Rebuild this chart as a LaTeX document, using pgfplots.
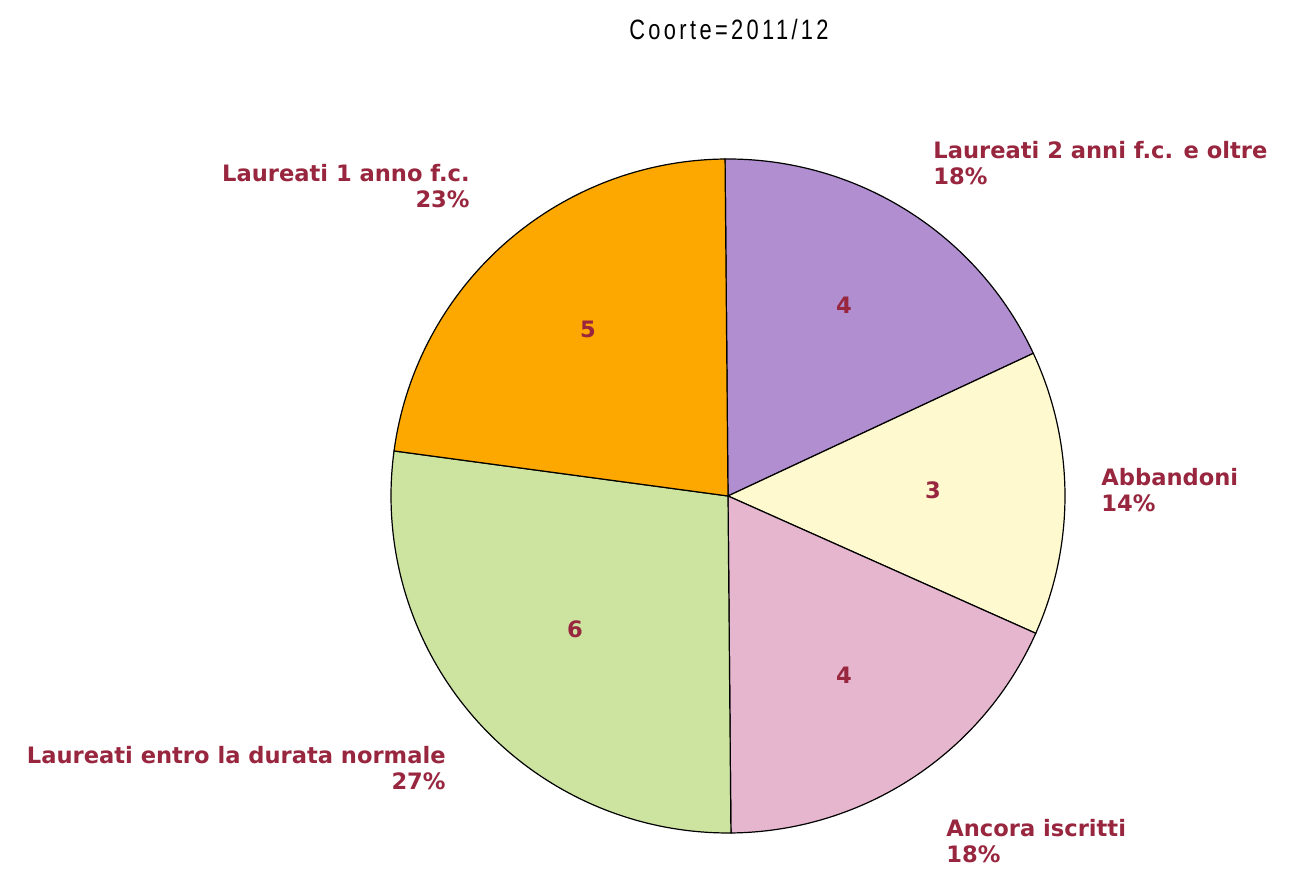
\documentclass[border=0pt]{standalone}
\usepackage{pgfplots}
\pgfplotsset{compat=1.18}
\usepackage{fontspec}
\setmainfont{DejaVu Sans}
\newfontfamily\titlefont{Liberation Sans}[FakeStretch=0.78,LetterSpace=12]
\definecolor{cPurple}{RGB}{176,142,208}
\definecolor{cCream}{RGB}{255,249,208}
\definecolor{cPink}{RGB}{229,182,206}
\definecolor{cGreen}{RGB}{205,227,160}
\definecolor{cOrange}{RGB}{252,168,0}
\definecolor{lab}{RGB}{152,38,62}
% data: counts per category
\def\vA{4}% Laureati 2 anni f.c. e oltre
\def\vB{3}% Abbandoni
\def\vC{4}% Ancora iscritti
\def\vD{6}% Laureati entro la durata normale
\def\vE{5}% Laureati 1 anno f.c.
\pgfmathsetmacro\tot{\vA+\vB+\vC+\vD+\vE}
\pgfmathsetmacro\aA{90.5}
\pgfmathsetmacro\aB{\aA-360*\vA/\tot}
\pgfmathsetmacro\aC{\aB-360*\vB/\tot}
\pgfmathsetmacro\aD{\aC-360*\vC/\tot}
\pgfmathsetmacro\aE{\aD-360*\vD/\tot}
\pgfmathsetmacro\aF{\aE-360*\vE/\tot}
\def\cx{728}\def\cy{381}\def\R{337}
\begin{document}
\begin{tikzpicture}
\begin{axis}[hide axis, scale only axis, clip=false,
  x=0.5pt, y=0.5pt, xmin=0, xmax=1303, ymin=0, ymax=877]
\path (axis cs:0,0) rectangle (axis cs:1303,877);
\addplot[fill=cPurple, draw=black, line width=0.6pt, domain=\aB:\aA, samples=90, variable=\t]
  ({\cx+\R*cos(\t)},{\cy+\R*sin(\t)}) -- (axis cs:\cx,\cy) -- cycle;
\addplot[fill=cCream, draw=black, line width=0.6pt, domain=\aC:\aB, samples=90, variable=\t]
  ({\cx+\R*cos(\t)},{\cy+\R*sin(\t)}) -- (axis cs:\cx,\cy) -- cycle;
\addplot[fill=cPink, draw=black, line width=0.6pt, domain=\aD:\aC, samples=90, variable=\t]
  ({\cx+\R*cos(\t)},{\cy+\R*sin(\t)}) -- (axis cs:\cx,\cy) -- cycle;
\addplot[fill=cGreen, draw=black, line width=0.6pt, domain=\aE:\aD, samples=120, variable=\t]
  ({\cx+\R*cos(\t)},{\cy+\R*sin(\t)}) -- (axis cs:\cx,\cy) -- cycle;
\addplot[fill=cOrange, draw=black, line width=0.6pt, domain=\aF:\aE, samples=100, variable=\t]
  ({\cx+\R*cos(\t)},{\cy+\R*sin(\t)}) -- (axis cs:\cx,\cy) -- cycle;
% value labels inside
\begin{scope}[every node/.style={font=\fontsize{11.3}{13}\selectfont\bfseries, text=lab}]
\node at (axis cs:844,572) {4};
\node at (axis cs:933,387) {3};
\node at (axis cs:844,202) {4};
\node at (axis cs:575,248) {6};
\node at (axis cs:588,548) {5};
% outside labels (anchor at baseline of last line)
\node[anchor=base east, align=right, inner sep=0pt] at (axis cs:470,669) {Laureati 1 anno f.c.\\23\%};
\node[anchor=base west, align=left, inner sep=0pt] at (axis cs:933,692) {Laureati 2 anni f.c. e oltre\\18\%};
\node[anchor=base west, align=left, inner sep=0pt] at (axis cs:1101,365) {Abbandoni\\14\%};
\node[anchor=base west, align=left, inner sep=0pt] at (axis cs:946,14) {Ancora iscritti\\18\%};
\node[anchor=base east, align=right, inner sep=0pt] at (axis cs:446,87) {Laureati entro la durata normale\\27\%};
\end{scope}
\node[anchor=base, inner sep=0pt, font=\titlefont\fontsize{14}{16}\selectfont] at (axis cs:729,837) {Coorte=2011/12};
\end{axis}
\end{tikzpicture}
\end{document}
